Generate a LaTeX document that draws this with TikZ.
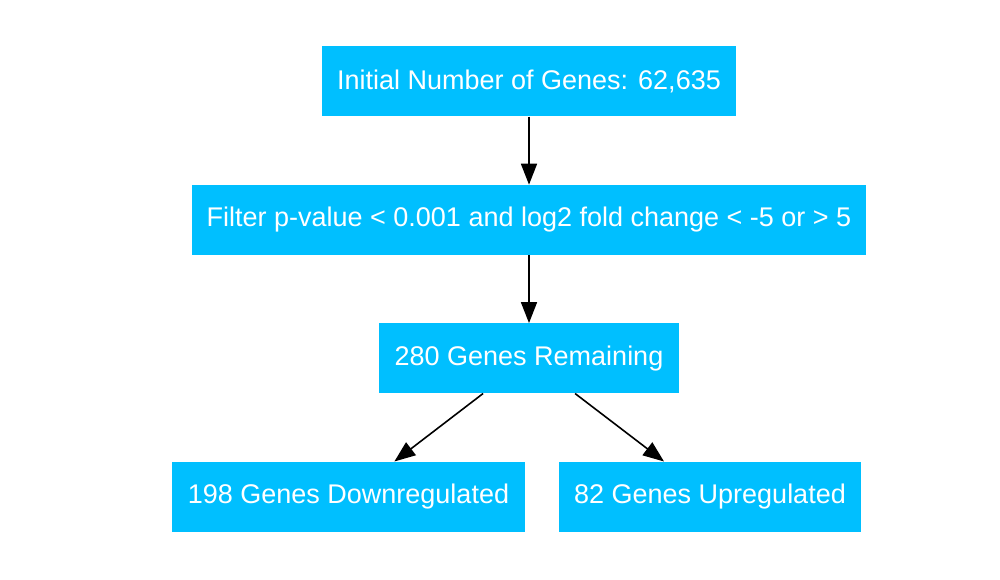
\documentclass[tikz,border=0pt]{standalone}
\usepackage{fontspec}
\setmainfont{Liberation Sans}
\usepackage{xcolor}
\usetikzlibrary{shapes,arrows.meta,positioning}
\definecolor{boxblue}{RGB}{0,191,255}

\begin{document}
\begin{tikzpicture}[
    x=1pt, y=1pt,
    node distance=68pt,
    step box/.style={rectangle, fill=boxblue, text=white, minimum height=70pt, inner xsep=15pt, font=\fontsize{27}{32}\selectfont},
    arrow/.style={-{Triangle[length=21pt,width=16pt]}, line width=1.6pt}
]
    \useasboundingbox (0,0) rectangle (1000,-580);

    % Pipeline steps
    \node[step box, minimum width=412pt] (initial) at (529,-81.5) {Initial Number of Genes: 62,635};
    \node[step box, below=of initial, minimum width=674pt] (filter) {Filter p-value < 0.001 and log2 fold change < -5 or > 5};
    \node[step box, below=of filter, minimum width=300pt] (remaining) {280 Genes Remaining};
    \node[step box, below=of remaining, xshift=-180.5pt, minimum width=353pt] (down) {198 Genes Downregulated};
    \node[step box, below=of remaining, xshift=181pt, minimum width=302pt] (up) {82 Genes Upregulated};

    % Flow
    \draw[arrow] (initial) -- (filter);
    \draw[arrow] (filter) -- (remaining);
    \draw[arrow] (remaining) -- (down);
    \draw[arrow] (remaining) -- (up);
\end{tikzpicture}
\end{document}
